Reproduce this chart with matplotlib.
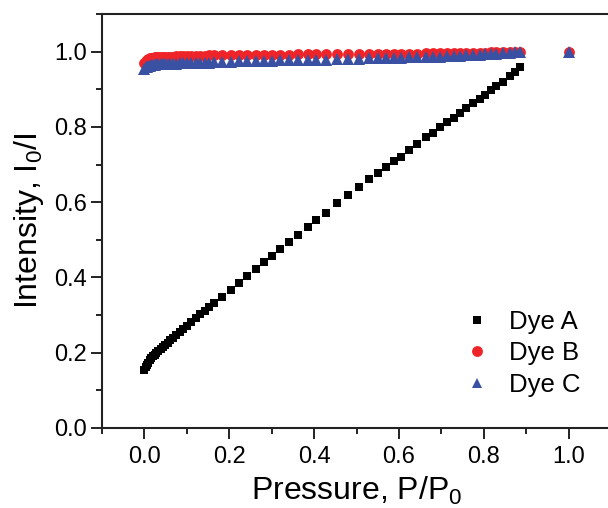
import matplotlib
matplotlib.use("Agg")
import matplotlib.pyplot as plt
from matplotlib.ticker import MultipleLocator

plt.rcParams['font.family'] = ['Liberation Sans', 'DejaVu Sans']
plt.rcParams['mathtext.fontset'] = 'custom'
plt.rcParams['mathtext.rm'] = 'Liberation Sans'
plt.rcParams['mathtext.default'] = 'regular'

# ---- data ----
x_A = [0.000, 0.003, 0.006, 0.009, 0.012, 0.016, 0.020, 0.024, 0.028, 0.033,
       0.038, 0.043, 0.049, 0.055, 0.061, 0.068, 0.075, 0.083, 0.091, 0.100,
       0.110, 0.121, 0.132, 0.143, 0.153, 0.165, 0.184, 0.204, 0.224, 0.243,
       0.262, 0.281, 0.300, 0.320, 0.340, 0.362, 0.385, 0.405, 0.429, 0.453,
       0.479, 0.505, 0.529, 0.550, 0.570, 0.588, 0.606, 0.623, 0.643, 0.663,
       0.680, 0.698, 0.714, 0.729, 0.745, 0.759, 0.774, 0.790, 0.802, 0.818,
       0.830, 0.845, 0.861, 0.873, 0.885]
y_A = [0.155, 0.162, 0.168, 0.174, 0.180, 0.185, 0.190, 0.195, 0.199, 0.204,
       0.209, 0.215, 0.221, 0.227, 0.233, 0.240, 0.248, 0.256, 0.264, 0.272,
       0.281, 0.291, 0.302, 0.312, 0.322, 0.332, 0.348, 0.367, 0.386, 0.405,
       0.423, 0.440, 0.457, 0.476, 0.495, 0.513, 0.535, 0.553, 0.572, 0.598,
       0.620, 0.641, 0.662, 0.678, 0.694, 0.710, 0.721, 0.739, 0.755, 0.774,
       0.785, 0.800, 0.814, 0.824, 0.838, 0.851, 0.864, 0.875, 0.886, 0.899,
       0.910, 0.920, 0.934, 0.945, 0.960]

x_BC = x_A + [1.000]
y_B = [0.970, 0.975, 0.978, 0.980, 0.982, 0.983, 0.984, 0.985, 0.985, 0.986,
       0.986, 0.986, 0.987, 0.987, 0.987, 0.987, 0.988, 0.988, 0.988, 0.988,
       0.989, 0.989, 0.989, 0.989, 0.990, 0.990, 0.990, 0.991, 0.991, 0.991,
       0.991, 0.992, 0.992, 0.992, 0.992, 0.993, 0.993, 0.993, 0.993, 0.993,
       0.994, 0.994, 0.994, 0.994, 0.995, 0.995, 0.995, 0.995, 0.995, 0.996,
       0.996, 0.996, 0.996, 0.996, 0.997, 0.997, 0.997, 0.997, 0.997, 0.998,
       0.998, 0.998, 0.999, 0.999, 1.000, 1.000]
y_C = [0.955, 0.958, 0.960, 0.962, 0.963, 0.964, 0.965, 0.965, 0.966, 0.966,
       0.966, 0.967, 0.967, 0.967, 0.968, 0.968, 0.968, 0.969, 0.969, 0.969,
       0.970, 0.970, 0.971, 0.971, 0.971, 0.972, 0.973, 0.973, 0.974, 0.975,
       0.975, 0.976, 0.976, 0.977, 0.977, 0.978, 0.978, 0.979, 0.979, 0.980,
       0.980, 0.981, 0.982, 0.982, 0.983, 0.984, 0.984, 0.985, 0.985, 0.986,
       0.987, 0.987, 0.988, 0.989, 0.989, 0.990, 0.991, 0.992, 0.993, 0.994,
       0.995, 0.996, 0.997, 0.998, 1.000, 1.000]

labels = ["Dye A", "Dye B", "Dye C"]

# ---- figure ----
fig = plt.figure(figsize=(6.08, 5.08), dpi=100)
ax = fig.add_axes([102/608, 80/508, 509/608, 414/508])

ax.plot(x_A, y_A, linestyle='none', marker='s', markersize=6.2,
        color='black', markeredgewidth=0, label=labels[0])
ax.plot(x_BC, y_B, linestyle='none', marker='o', markersize=7.8,
        color='#EE2428', markeredgewidth=0, label=labels[1])
ax.plot(x_BC, y_C, linestyle='none', marker='^', markersize=8.8,
        color='#3A50A2', markeredgewidth=0, label=labels[2])

ax.set_xlim(-0.1, 1.1)
ax.set_ylim(0.0, 1.1)
ax.xaxis.set_minor_locator(MultipleLocator(0.1))
ax.yaxis.set_minor_locator(MultipleLocator(0.1))
ax.set_xticks([0.0, 0.2, 0.4, 0.6, 0.8, 1.0])
ax.set_yticks([0.0, 0.2, 0.4, 0.6, 0.8, 1.0])
ax.xaxis.set_major_formatter(plt.FuncFormatter(lambda v, p: f"{v:.1f}"))
ax.yaxis.set_major_formatter(plt.FuncFormatter(lambda v, p: f"{v:.1f}"))

for s in ax.spines.values():
    s.set_linewidth(1.5)
    s.set_color('#222222')
ax.spines['right'].set_visible(False)

ax.tick_params(which='major', direction='out', length=8, width=1.4,
               labelsize=17, colors='#222222')
ax.tick_params(which='minor', direction='out', length=4.5, width=1.4,
               colors='#222222')
ax.tick_params(axis='x', which='major', pad=5)
ax.tick_params(axis='y', which='major', pad=3)
ax.tick_params(labelcolor='black')

ax.set_xlabel("Pressure, P/P$_0$", fontsize=23, labelpad=5)
ax.set_ylabel("Intensity, I$_0$/I", fontsize=23, labelpad=6)

leg = ax.legend(loc='lower right', bbox_to_anchor=(0.961, 0.05), frameon=False,
                fontsize=18.5, handletextpad=0.75, labelspacing=0.3,
                handlelength=1.0, borderaxespad=0)
for h, ms in zip(leg.legend_handles, [6.2, 7.8, 7.8]):
    h.set_markersize(ms)

fig.savefig("out.png", dpi=100)
